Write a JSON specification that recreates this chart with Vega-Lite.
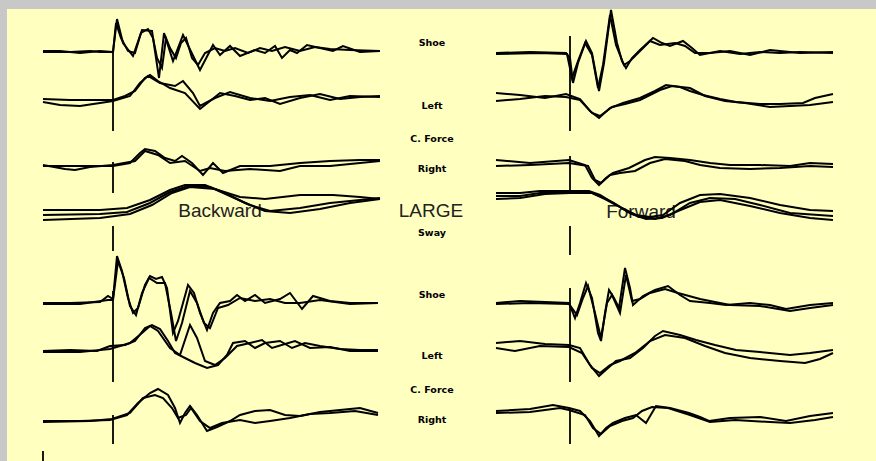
{
"$schema":"https://vega.github.io/schema/vega-lite/v6.json",
"background":"#c8c8c8",
"padding":{"left":7,"top":6,"right":0,"bottom":0},
"autosize":{"type":"pad"},
"spacing":0,
"bounds":"flush",
"config":{"view":{"stroke":null,"fill":"#ffffc0"},"text":{"font":"Liberation Sans"}},
"datasets":{
"L":[
{"s":"ts_a","t":-70,"y":49},{"s":"ts_a","t":-43,"y":49},{"s":"ts_a","t":-23,"y":48},{"s":"ts_a","t":-13,"y":49},{"s":"ts_a","t":0,"y":49},{"s":"ts_a","t":4,"y":16},{"s":"ts_a","t":10,"y":40},{"s":"ts_a","t":20,"y":53},{"s":"ts_a","t":29,"y":27},{"s":"ts_a","t":39,"y":28},{"s":"ts_a","t":46,"y":75},{"s":"ts_a","t":51,"y":30},{"s":"ts_a","t":60,"y":58},{"s":"ts_a","t":70,"y":32},{"s":"ts_a","t":87,"y":67},{"s":"ts_a","t":100,"y":42},{"s":"ts_a","t":107,"y":52},{"s":"ts_a","t":117,"y":43},{"s":"ts_a","t":127,"y":53},{"s":"ts_a","t":142,"y":47},{"s":"ts_a","t":152,"y":50},{"s":"ts_a","t":162,"y":43},{"s":"ts_a","t":169,"y":55},{"s":"ts_a","t":177,"y":47},{"s":"ts_a","t":184,"y":50},{"s":"ts_a","t":194,"y":42},{"s":"ts_a","t":207,"y":45},{"s":"ts_a","t":220,"y":48},{"s":"ts_a","t":230,"y":43},{"s":"ts_a","t":247,"y":49},{"s":"ts_a","t":267,"y":48},
{"s":"ts_b","t":-70,"y":48},{"s":"ts_b","t":-53,"y":48},{"s":"ts_b","t":-33,"y":50},{"s":"ts_b","t":-13,"y":48},{"s":"ts_b","t":0,"y":49},{"s":"ts_b","t":3,"y":20},{"s":"ts_b","t":8,"y":35},{"s":"ts_b","t":15,"y":48},{"s":"ts_b","t":22,"y":50},{"s":"ts_b","t":28,"y":30},{"s":"ts_b","t":35,"y":26},{"s":"ts_b","t":40,"y":35},{"s":"ts_b","t":44,"y":55},{"s":"ts_b","t":49,"y":65},{"s":"ts_b","t":53,"y":35},{"s":"ts_b","t":57,"y":45},{"s":"ts_b","t":63,"y":55},{"s":"ts_b","t":68,"y":40},{"s":"ts_b","t":73,"y":35},{"s":"ts_b","t":79,"y":55},{"s":"ts_b","t":85,"y":62},{"s":"ts_b","t":92,"y":50},{"s":"ts_b","t":102,"y":45},{"s":"ts_b","t":112,"y":48},{"s":"ts_b","t":122,"y":45},{"s":"ts_b","t":135,"y":50},{"s":"ts_b","t":147,"y":45},{"s":"ts_b","t":159,"y":48},{"s":"ts_b","t":172,"y":44},{"s":"ts_b","t":187,"y":48},{"s":"ts_b","t":202,"y":44},{"s":"ts_b","t":217,"y":46},{"s":"ts_b","t":237,"y":47},{"s":"ts_b","t":267,"y":48},
{"s":"tl_a","t":-70,"y":96},{"s":"tl_a","t":-43,"y":97},{"s":"tl_a","t":-13,"y":97},{"s":"tl_a","t":0,"y":97},{"s":"tl_a","t":12,"y":93},{"s":"tl_a","t":22,"y":88},{"s":"tl_a","t":32,"y":75},{"s":"tl_a","t":37,"y":72},{"s":"tl_a","t":45,"y":78},{"s":"tl_a","t":57,"y":85},{"s":"tl_a","t":72,"y":90},{"s":"tl_a","t":87,"y":106},{"s":"tl_a","t":97,"y":98},{"s":"tl_a","t":107,"y":90},{"s":"tl_a","t":122,"y":93},{"s":"tl_a","t":137,"y":97},{"s":"tl_a","t":152,"y":95},{"s":"tl_a","t":167,"y":101},{"s":"tl_a","t":187,"y":95},{"s":"tl_a","t":207,"y":91},{"s":"tl_a","t":227,"y":96},{"s":"tl_a","t":247,"y":94},{"s":"tl_a","t":267,"y":93},
{"s":"tl_b","t":-70,"y":99},{"s":"tl_b","t":-53,"y":102},{"s":"tl_b","t":-33,"y":103},{"s":"tl_b","t":-13,"y":100},{"s":"tl_b","t":0,"y":98},{"s":"tl_b","t":17,"y":93},{"s":"tl_b","t":27,"y":80},{"s":"tl_b","t":35,"y":73},{"s":"tl_b","t":47,"y":80},{"s":"tl_b","t":62,"y":83},{"s":"tl_b","t":70,"y":78},{"s":"tl_b","t":80,"y":90},{"s":"tl_b","t":87,"y":103},{"s":"tl_b","t":102,"y":95},{"s":"tl_b","t":117,"y":89},{"s":"tl_b","t":137,"y":95},{"s":"tl_b","t":157,"y":98},{"s":"tl_b","t":177,"y":94},{"s":"tl_b","t":197,"y":92},{"s":"tl_b","t":217,"y":97},{"s":"tl_b","t":237,"y":93},{"s":"tl_b","t":267,"y":94},
{"s":"tr_a","t":-70,"y":163},{"s":"tr_a","t":-43,"y":163},{"s":"tr_a","t":-13,"y":163},{"s":"tr_a","t":0,"y":163},{"s":"tr_a","t":17,"y":160},{"s":"tr_a","t":27,"y":150},{"s":"tr_a","t":32,"y":146},{"s":"tr_a","t":42,"y":148},{"s":"tr_a","t":52,"y":155},{"s":"tr_a","t":62,"y":158},{"s":"tr_a","t":69,"y":153},{"s":"tr_a","t":79,"y":160},{"s":"tr_a","t":90,"y":172},{"s":"tr_a","t":100,"y":160},{"s":"tr_a","t":110,"y":170},{"s":"tr_a","t":127,"y":163},{"s":"tr_a","t":157,"y":163},{"s":"tr_a","t":187,"y":160},{"s":"tr_a","t":217,"y":158},{"s":"tr_a","t":247,"y":157},{"s":"tr_a","t":267,"y":157},
{"s":"tr_b","t":-70,"y":162},{"s":"tr_b","t":-48,"y":166},{"s":"tr_b","t":-38,"y":167},{"s":"tr_b","t":-23,"y":164},{"s":"tr_b","t":0,"y":162},{"s":"tr_b","t":22,"y":158},{"s":"tr_b","t":32,"y":148},{"s":"tr_b","t":45,"y":152},{"s":"tr_b","t":57,"y":160},{"s":"tr_b","t":72,"y":158},{"s":"tr_b","t":87,"y":168},{"s":"tr_b","t":97,"y":165},{"s":"tr_b","t":112,"y":168},{"s":"tr_b","t":137,"y":166},{"s":"tr_b","t":167,"y":168},{"s":"tr_b","t":187,"y":163},{"s":"tr_b","t":217,"y":163},{"s":"tr_b","t":247,"y":160},{"s":"tr_b","t":267,"y":158},
{"s":"sw_a","t":-70,"y":207},{"s":"sw_a","t":-13,"y":207},{"s":"sw_a","t":14,"y":205},{"s":"sw_a","t":37,"y":197},{"s":"sw_a","t":57,"y":187},{"s":"sw_a","t":72,"y":182},{"s":"sw_a","t":92,"y":182},{"s":"sw_a","t":112,"y":190},{"s":"sw_a","t":132,"y":200},{"s":"sw_a","t":152,"y":208},{"s":"sw_a","t":177,"y":210},{"s":"sw_a","t":207,"y":206},{"s":"sw_a","t":237,"y":200},{"s":"sw_a","t":267,"y":196},
{"s":"sw_b","t":-70,"y":212},{"s":"sw_b","t":-13,"y":211},{"s":"sw_b","t":14,"y":209},{"s":"sw_b","t":37,"y":200},{"s":"sw_b","t":57,"y":189},{"s":"sw_b","t":75,"y":183},{"s":"sw_b","t":97,"y":184},{"s":"sw_b","t":117,"y":193},{"s":"sw_b","t":137,"y":202},{"s":"sw_b","t":157,"y":208},{"s":"sw_b","t":187,"y":205},{"s":"sw_b","t":217,"y":200},{"s":"sw_b","t":267,"y":195},
{"s":"sw_c","t":-70,"y":217},{"s":"sw_c","t":-13,"y":215},{"s":"sw_c","t":17,"y":211},{"s":"sw_c","t":39,"y":202},{"s":"sw_c","t":59,"y":190},{"s":"sw_c","t":77,"y":184},{"s":"sw_c","t":102,"y":186},{"s":"sw_c","t":127,"y":194},{"s":"sw_c","t":152,"y":196},{"s":"sw_c","t":187,"y":192},{"s":"sw_c","t":220,"y":192},{"s":"sw_c","t":247,"y":194},{"s":"sw_c","t":267,"y":196},
{"s":"bs_a","t":-70,"y":300},{"s":"bs_a","t":-43,"y":300},{"s":"bs_a","t":-13,"y":299},{"s":"bs_a","t":-5,"y":293},{"s":"bs_a","t":0,"y":296},{"s":"bs_a","t":4,"y":253},{"s":"bs_a","t":9,"y":268},{"s":"bs_a","t":15,"y":295},{"s":"bs_a","t":20,"y":310},{"s":"bs_a","t":25,"y":305},{"s":"bs_a","t":32,"y":282},{"s":"bs_a","t":37,"y":273},{"s":"bs_a","t":43,"y":276},{"s":"bs_a","t":49,"y":274},{"s":"bs_a","t":54,"y":285},{"s":"bs_a","t":60,"y":330},{"s":"bs_a","t":65,"y":318},{"s":"bs_a","t":70,"y":300},{"s":"bs_a","t":75,"y":282},{"s":"bs_a","t":81,"y":290},{"s":"bs_a","t":87,"y":310},{"s":"bs_a","t":94,"y":327},{"s":"bs_a","t":100,"y":310},{"s":"bs_a","t":107,"y":300},{"s":"bs_a","t":117,"y":298},{"s":"bs_a","t":124,"y":292},{"s":"bs_a","t":132,"y":298},{"s":"bs_a","t":142,"y":292},{"s":"bs_a","t":152,"y":300},{"s":"bs_a","t":167,"y":296},{"s":"bs_a","t":177,"y":290},{"s":"bs_a","t":189,"y":306},{"s":"bs_a","t":200,"y":293},{"s":"bs_a","t":217,"y":298},{"s":"bs_a","t":237,"y":300},{"s":"bs_a","t":265,"y":300},
{"s":"bs_b","t":-70,"y":301},{"s":"bs_b","t":-33,"y":301},{"s":"bs_b","t":-5,"y":297},{"s":"bs_b","t":0,"y":297},{"s":"bs_b","t":5,"y":258},{"s":"bs_b","t":11,"y":275},{"s":"bs_b","t":17,"y":303},{"s":"bs_b","t":23,"y":312},{"s":"bs_b","t":29,"y":290},{"s":"bs_b","t":36,"y":275},{"s":"bs_b","t":44,"y":280},{"s":"bs_b","t":52,"y":280},{"s":"bs_b","t":58,"y":310},{"s":"bs_b","t":63,"y":338},{"s":"bs_b","t":69,"y":320},{"s":"bs_b","t":77,"y":288},{"s":"bs_b","t":84,"y":300},{"s":"bs_b","t":91,"y":320},{"s":"bs_b","t":97,"y":325},{"s":"bs_b","t":105,"y":305},{"s":"bs_b","t":115,"y":302},{"s":"bs_b","t":127,"y":295},{"s":"bs_b","t":142,"y":298},{"s":"bs_b","t":157,"y":296},{"s":"bs_b","t":172,"y":300},{"s":"bs_b","t":187,"y":300},{"s":"bs_b","t":207,"y":297},{"s":"bs_b","t":237,"y":301},{"s":"bs_b","t":265,"y":300},
{"s":"bl_a","t":-70,"y":348},{"s":"bl_a","t":-43,"y":347},{"s":"bl_a","t":-16,"y":348},{"s":"bl_a","t":-3,"y":343},{"s":"bl_a","t":12,"y":342},{"s":"bl_a","t":22,"y":338},{"s":"bl_a","t":32,"y":325},{"s":"bl_a","t":39,"y":322},{"s":"bl_a","t":47,"y":326},{"s":"bl_a","t":55,"y":338},{"s":"bl_a","t":62,"y":350},{"s":"bl_a","t":72,"y":355},{"s":"bl_a","t":82,"y":360},{"s":"bl_a","t":94,"y":365},{"s":"bl_a","t":105,"y":362},{"s":"bl_a","t":114,"y":352},{"s":"bl_a","t":120,"y":340},{"s":"bl_a","t":132,"y":338},{"s":"bl_a","t":142,"y":345},{"s":"bl_a","t":152,"y":340},{"s":"bl_a","t":167,"y":338},{"s":"bl_a","t":179,"y":345},{"s":"bl_a","t":192,"y":340},{"s":"bl_a","t":207,"y":343},{"s":"bl_a","t":227,"y":346},{"s":"bl_a","t":247,"y":347},{"s":"bl_a","t":265,"y":347},
{"s":"bl_b","t":-70,"y":349},{"s":"bl_b","t":-33,"y":349},{"s":"bl_b","t":-3,"y":346},{"s":"bl_b","t":17,"y":340},{"s":"bl_b","t":29,"y":330},{"s":"bl_b","t":37,"y":323},{"s":"bl_b","t":45,"y":328},{"s":"bl_b","t":57,"y":345},{"s":"bl_b","t":67,"y":352},{"s":"bl_b","t":77,"y":322},{"s":"bl_b","t":84,"y":335},{"s":"bl_b","t":92,"y":358},{"s":"bl_b","t":102,"y":362},{"s":"bl_b","t":112,"y":355},{"s":"bl_b","t":124,"y":343},{"s":"bl_b","t":137,"y":340},{"s":"bl_b","t":149,"y":337},{"s":"bl_b","t":159,"y":345},{"s":"bl_b","t":172,"y":341},{"s":"bl_b","t":182,"y":338},{"s":"bl_b","t":197,"y":345},{"s":"bl_b","t":217,"y":344},{"s":"bl_b","t":237,"y":348},{"s":"bl_b","t":265,"y":348},
{"s":"br_a","t":-70,"y":418},{"s":"br_a","t":-33,"y":418},{"s":"br_a","t":-3,"y":417},{"s":"br_a","t":14,"y":412},{"s":"br_a","t":25,"y":400},{"s":"br_a","t":37,"y":390},{"s":"br_a","t":45,"y":386},{"s":"br_a","t":55,"y":392},{"s":"br_a","t":62,"y":405},{"s":"br_a","t":67,"y":420},{"s":"br_a","t":72,"y":410},{"s":"br_a","t":77,"y":403},{"s":"br_a","t":84,"y":412},{"s":"br_a","t":94,"y":428},{"s":"br_a","t":104,"y":424},{"s":"br_a","t":117,"y":418},{"s":"br_a","t":127,"y":412},{"s":"br_a","t":142,"y":408},{"s":"br_a","t":157,"y":407},{"s":"br_a","t":172,"y":412},{"s":"br_a","t":187,"y":413},{"s":"br_a","t":207,"y":409},{"s":"br_a","t":227,"y":407},{"s":"br_a","t":247,"y":405},{"s":"br_a","t":265,"y":410},
{"s":"br_b","t":-70,"y":419},{"s":"br_b","t":-23,"y":418},{"s":"br_b","t":-1,"y":416},{"s":"br_b","t":17,"y":410},{"s":"br_b","t":30,"y":395},{"s":"br_b","t":42,"y":392},{"s":"br_b","t":50,"y":395},{"s":"br_b","t":59,"y":405},{"s":"br_b","t":65,"y":415},{"s":"br_b","t":73,"y":412},{"s":"br_b","t":78,"y":405},{"s":"br_b","t":87,"y":418},{"s":"br_b","t":97,"y":425},{"s":"br_b","t":109,"y":420},{"s":"br_b","t":127,"y":417},{"s":"br_b","t":142,"y":420},{"s":"br_b","t":157,"y":418},{"s":"br_b","t":177,"y":415},{"s":"br_b","t":197,"y":411},{"s":"br_b","t":217,"y":410},{"s":"br_b","t":242,"y":408},{"s":"br_b","t":265,"y":412}
],
"R":[
{"s":"ts_a","t":-74,"y":50},{"s":"ts_a","t":-40,"y":49},{"s":"ts_a","t":-4,"y":50},{"s":"ts_a","t":0,"y":55},{"s":"ts_a","t":3,"y":80},{"s":"ts_a","t":8,"y":60},{"s":"ts_a","t":16,"y":38},{"s":"ts_a","t":22,"y":50},{"s":"ts_a","t":29,"y":88},{"s":"ts_a","t":34,"y":60},{"s":"ts_a","t":41,"y":7},{"s":"ts_a","t":47,"y":40},{"s":"ts_a","t":52,"y":58},{"s":"ts_a","t":56,"y":65},{"s":"ts_a","t":62,"y":55},{"s":"ts_a","t":70,"y":47},{"s":"ts_a","t":83,"y":35},{"s":"ts_a","t":92,"y":40},{"s":"ts_a","t":100,"y":43},{"s":"ts_a","t":113,"y":38},{"s":"ts_a","t":122,"y":45},{"s":"ts_a","t":130,"y":52},{"s":"ts_a","t":150,"y":48},{"s":"ts_a","t":170,"y":51},{"s":"ts_a","t":190,"y":49},{"s":"ts_a","t":210,"y":50},{"s":"ts_a","t":230,"y":49},{"s":"ts_a","t":263,"y":50},
{"s":"ts_b","t":-74,"y":51},{"s":"ts_b","t":-30,"y":50},{"s":"ts_b","t":-3,"y":51},{"s":"ts_b","t":2,"y":75},{"s":"ts_b","t":8,"y":58},{"s":"ts_b","t":15,"y":40},{"s":"ts_b","t":22,"y":52},{"s":"ts_b","t":28,"y":85},{"s":"ts_b","t":33,"y":62},{"s":"ts_b","t":40,"y":12},{"s":"ts_b","t":46,"y":42},{"s":"ts_b","t":54,"y":62},{"s":"ts_b","t":60,"y":58},{"s":"ts_b","t":70,"y":48},{"s":"ts_b","t":80,"y":38},{"s":"ts_b","t":90,"y":42},{"s":"ts_b","t":105,"y":40},{"s":"ts_b","t":115,"y":43},{"s":"ts_b","t":125,"y":50},{"s":"ts_b","t":140,"y":50},{"s":"ts_b","t":160,"y":48},{"s":"ts_b","t":180,"y":52},{"s":"ts_b","t":200,"y":47},{"s":"ts_b","t":230,"y":50},{"s":"ts_b","t":263,"y":49},
{"s":"tl_a","t":-74,"y":90},{"s":"tl_a","t":-50,"y":92},{"s":"tl_a","t":-25,"y":95},{"s":"tl_a","t":-4,"y":91},{"s":"tl_a","t":10,"y":96},{"s":"tl_a","t":20,"y":108},{"s":"tl_a","t":29,"y":115},{"s":"tl_a","t":40,"y":105},{"s":"tl_a","t":53,"y":100},{"s":"tl_a","t":70,"y":95},{"s":"tl_a","t":85,"y":88},{"s":"tl_a","t":96,"y":82},{"s":"tl_a","t":110,"y":84},{"s":"tl_a","t":120,"y":88},{"s":"tl_a","t":133,"y":92},{"s":"tl_a","t":150,"y":96},{"s":"tl_a","t":166,"y":99},{"s":"tl_a","t":190,"y":101},{"s":"tl_a","t":210,"y":101},{"s":"tl_a","t":233,"y":100},{"s":"tl_a","t":245,"y":95},{"s":"tl_a","t":263,"y":91},
{"s":"tl_b","t":-74,"y":98},{"s":"tl_b","t":-50,"y":96},{"s":"tl_b","t":-25,"y":93},{"s":"tl_b","t":-4,"y":94},{"s":"tl_b","t":10,"y":97},{"s":"tl_b","t":22,"y":110},{"s":"tl_b","t":30,"y":113},{"s":"tl_b","t":42,"y":104},{"s":"tl_b","t":55,"y":101},{"s":"tl_b","t":70,"y":97},{"s":"tl_b","t":90,"y":87},{"s":"tl_b","t":102,"y":83},{"s":"tl_b","t":120,"y":85},{"s":"tl_b","t":135,"y":93},{"s":"tl_b","t":155,"y":98},{"s":"tl_b","t":175,"y":100},{"s":"tl_b","t":200,"y":104},{"s":"tl_b","t":220,"y":103},{"s":"tl_b","t":240,"y":102},{"s":"tl_b","t":263,"y":99},
{"s":"tr_a","t":-74,"y":157},{"s":"tr_a","t":-40,"y":160},{"s":"tr_a","t":-1,"y":157},{"s":"tr_a","t":15,"y":162},{"s":"tr_a","t":22,"y":175},{"s":"tr_a","t":29,"y":182},{"s":"tr_a","t":36,"y":175},{"s":"tr_a","t":43,"y":170},{"s":"tr_a","t":59,"y":165},{"s":"tr_a","t":75,"y":157},{"s":"tr_a","t":85,"y":154},{"s":"tr_a","t":100,"y":155},{"s":"tr_a","t":120,"y":157},{"s":"tr_a","t":140,"y":160},{"s":"tr_a","t":160,"y":162},{"s":"tr_a","t":190,"y":162},{"s":"tr_a","t":220,"y":163},{"s":"tr_a","t":240,"y":160},{"s":"tr_a","t":263,"y":161},
{"s":"tr_b","t":-74,"y":163},{"s":"tr_b","t":-40,"y":162},{"s":"tr_b","t":-1,"y":160},{"s":"tr_b","t":18,"y":163},{"s":"tr_b","t":25,"y":177},{"s":"tr_b","t":31,"y":180},{"s":"tr_b","t":40,"y":172},{"s":"tr_b","t":50,"y":170},{"s":"tr_b","t":65,"y":168},{"s":"tr_b","t":80,"y":160},{"s":"tr_b","t":95,"y":156},{"s":"tr_b","t":115,"y":158},{"s":"tr_b","t":130,"y":162},{"s":"tr_b","t":150,"y":165},{"s":"tr_b","t":180,"y":166},{"s":"tr_b","t":210,"y":165},{"s":"tr_b","t":240,"y":163},{"s":"tr_b","t":263,"y":164},
{"s":"sw_a","t":-74,"y":190},{"s":"sw_a","t":-50,"y":190},{"s":"sw_a","t":-30,"y":188},{"s":"sw_a","t":0,"y":188},{"s":"sw_a","t":19,"y":188},{"s":"sw_a","t":30,"y":192},{"s":"sw_a","t":40,"y":198},{"s":"sw_a","t":52,"y":205},{"s":"sw_a","t":66,"y":212},{"s":"sw_a","t":80,"y":214},{"s":"sw_a","t":93,"y":212},{"s":"sw_a","t":110,"y":200},{"s":"sw_a","t":130,"y":192},{"s":"sw_a","t":150,"y":191},{"s":"sw_a","t":180,"y":195},{"s":"sw_a","t":210,"y":202},{"s":"sw_a","t":240,"y":207},{"s":"sw_a","t":263,"y":208},
{"s":"sw_b","t":-74,"y":193},{"s":"sw_b","t":-50,"y":193},{"s":"sw_b","t":-30,"y":190},{"s":"sw_b","t":0,"y":189},{"s":"sw_b","t":20,"y":189},{"s":"sw_b","t":32,"y":194},{"s":"sw_b","t":44,"y":200},{"s":"sw_b","t":58,"y":209},{"s":"sw_b","t":70,"y":214},{"s":"sw_b","t":85,"y":216},{"s":"sw_b","t":100,"y":212},{"s":"sw_b","t":120,"y":200},{"s":"sw_b","t":140,"y":195},{"s":"sw_b","t":165,"y":196},{"s":"sw_b","t":190,"y":202},{"s":"sw_b","t":220,"y":210},{"s":"sw_b","t":263,"y":213},
{"s":"sw_c","t":-74,"y":196},{"s":"sw_c","t":-50,"y":195},{"s":"sw_c","t":-25,"y":191},{"s":"sw_c","t":0,"y":190},{"s":"sw_c","t":22,"y":190},{"s":"sw_c","t":35,"y":196},{"s":"sw_c","t":48,"y":203},{"s":"sw_c","t":62,"y":211},{"s":"sw_c","t":76,"y":216},{"s":"sw_c","t":92,"y":215},{"s":"sw_c","t":108,"y":208},{"s":"sw_c","t":130,"y":199},{"s":"sw_c","t":150,"y":197},{"s":"sw_c","t":180,"y":203},{"s":"sw_c","t":210,"y":210},{"s":"sw_c","t":240,"y":215},{"s":"sw_c","t":263,"y":217},
{"s":"bs_a","t":-74,"y":300},{"s":"bs_a","t":-50,"y":298},{"s":"bs_a","t":-25,"y":299},{"s":"bs_a","t":-1,"y":300},{"s":"bs_a","t":5,"y":315},{"s":"bs_a","t":10,"y":300},{"s":"bs_a","t":16,"y":280},{"s":"bs_a","t":22,"y":295},{"s":"bs_a","t":28,"y":330},{"s":"bs_a","t":31,"y":338},{"s":"bs_a","t":35,"y":310},{"s":"bs_a","t":39,"y":287},{"s":"bs_a","t":44,"y":295},{"s":"bs_a","t":49,"y":305},{"s":"bs_a","t":55,"y":265},{"s":"bs_a","t":60,"y":285},{"s":"bs_a","t":63,"y":302},{"s":"bs_a","t":73,"y":293},{"s":"bs_a","t":85,"y":287},{"s":"bs_a","t":98,"y":283},{"s":"bs_a","t":110,"y":292},{"s":"bs_a","t":120,"y":298},{"s":"bs_a","t":140,"y":300},{"s":"bs_a","t":156,"y":302},{"s":"bs_a","t":180,"y":300},{"s":"bs_a","t":200,"y":302},{"s":"bs_a","t":216,"y":306},{"s":"bs_a","t":240,"y":302},{"s":"bs_a","t":263,"y":300},
{"s":"bs_b","t":-74,"y":301},{"s":"bs_b","t":-40,"y":300},{"s":"bs_b","t":-1,"y":301},{"s":"bs_b","t":7,"y":312},{"s":"bs_b","t":13,"y":295},{"s":"bs_b","t":18,"y":283},{"s":"bs_b","t":25,"y":310},{"s":"bs_b","t":31,"y":335},{"s":"bs_b","t":37,"y":300},{"s":"bs_b","t":42,"y":292},{"s":"bs_b","t":50,"y":310},{"s":"bs_b","t":56,"y":272},{"s":"bs_b","t":62,"y":298},{"s":"bs_b","t":70,"y":296},{"s":"bs_b","t":80,"y":290},{"s":"bs_b","t":95,"y":286},{"s":"bs_b","t":108,"y":290},{"s":"bs_b","t":130,"y":296},{"s":"bs_b","t":160,"y":302},{"s":"bs_b","t":190,"y":303},{"s":"bs_b","t":220,"y":308},{"s":"bs_b","t":240,"y":305},{"s":"bs_b","t":263,"y":302},
{"s":"bl_a","t":-74,"y":340},{"s":"bl_a","t":-50,"y":338},{"s":"bl_a","t":-25,"y":341},{"s":"bl_a","t":-1,"y":342},{"s":"bl_a","t":10,"y":345},{"s":"bl_a","t":20,"y":362},{"s":"bl_a","t":29,"y":373},{"s":"bl_a","t":38,"y":365},{"s":"bl_a","t":46,"y":358},{"s":"bl_a","t":60,"y":355},{"s":"bl_a","t":73,"y":345},{"s":"bl_a","t":85,"y":333},{"s":"bl_a","t":93,"y":328},{"s":"bl_a","t":110,"y":332},{"s":"bl_a","t":126,"y":337},{"s":"bl_a","t":145,"y":342},{"s":"bl_a","t":166,"y":347},{"s":"bl_a","t":190,"y":349},{"s":"bl_a","t":220,"y":352},{"s":"bl_a","t":240,"y":350},{"s":"bl_a","t":263,"y":347},
{"s":"bl_b","t":-74,"y":345},{"s":"bl_b","t":-55,"y":348},{"s":"bl_b","t":-30,"y":343},{"s":"bl_b","t":-1,"y":344},{"s":"bl_b","t":12,"y":350},{"s":"bl_b","t":22,"y":365},{"s":"bl_b","t":30,"y":370},{"s":"bl_b","t":40,"y":362},{"s":"bl_b","t":50,"y":358},{"s":"bl_b","t":65,"y":350},{"s":"bl_b","t":80,"y":338},{"s":"bl_b","t":95,"y":332},{"s":"bl_b","t":115,"y":335},{"s":"bl_b","t":135,"y":343},{"s":"bl_b","t":155,"y":350},{"s":"bl_b","t":180,"y":355},{"s":"bl_b","t":210,"y":358},{"s":"bl_b","t":235,"y":360},{"s":"bl_b","t":250,"y":356},{"s":"bl_b","t":263,"y":350},
{"s":"br_a","t":-74,"y":408},{"s":"br_a","t":-40,"y":406},{"s":"br_a","t":-17,"y":402},{"s":"br_a","t":-1,"y":405},{"s":"br_a","t":10,"y":408},{"s":"br_a","t":20,"y":418},{"s":"br_a","t":29,"y":433},{"s":"br_a","t":36,"y":425},{"s":"br_a","t":43,"y":420},{"s":"br_a","t":55,"y":415},{"s":"br_a","t":66,"y":412},{"s":"br_a","t":76,"y":420},{"s":"br_a","t":86,"y":403},{"s":"br_a","t":100,"y":405},{"s":"br_a","t":119,"y":410},{"s":"br_a","t":130,"y":414},{"s":"br_a","t":139,"y":418},{"s":"br_a","t":160,"y":415},{"s":"br_a","t":190,"y":414},{"s":"br_a","t":216,"y":418},{"s":"br_a","t":240,"y":413},{"s":"br_a","t":263,"y":410},
{"s":"br_b","t":-74,"y":410},{"s":"br_b","t":-40,"y":409},{"s":"br_b","t":-10,"y":405},{"s":"br_b","t":-1,"y":407},{"s":"br_b","t":15,"y":412},{"s":"br_b","t":23,"y":425},{"s":"br_b","t":31,"y":431},{"s":"br_b","t":40,"y":423},{"s":"br_b","t":52,"y":418},{"s":"br_b","t":63,"y":415},{"s":"br_b","t":72,"y":408},{"s":"br_b","t":82,"y":404},{"s":"br_b","t":98,"y":405},{"s":"br_b","t":120,"y":412},{"s":"br_b","t":140,"y":419},{"s":"br_b","t":165,"y":417},{"s":"br_b","t":200,"y":419},{"s":"br_b","t":220,"y":420},{"s":"br_b","t":245,"y":417},{"s":"br_b","t":263,"y":414}
],
"LR":[{"t":0,"y":47,"y2":128},{"t":0,"y":159,"y2":190},{"t":0,"y":223,"y2":248},{"t":0,"y":288,"y2":379},{"t":0,"y":412,"y2":441},{"t":-70,"y":448,"y2":461}],
"RR":[{"t":0,"y":33,"y2":128},{"t":0,"y":153,"y2":188},{"t":0,"y":223,"y2":252},{"t":0,"y":285,"y2":379},{"t":0,"y":405,"y2":441}],
"LAB":[{"t":319,"y":40,"label":"Shoe"},{"t":319,"y":103,"label":"Left"},{"t":319,"y":136,"label":"C. Force"},{"t":319,"y":166,"label":"Right"},{"t":319,"y":230,"label":"Sway"},{"t":319,"y":292,"label":"Shoe"},{"t":319,"y":353,"label":"Left"},{"t":319,"y":387,"label":"C. Force"},{"t":319,"y":417,"label":"Right"}],
"BIGL":[{"t":107,"y":208,"label":"Backward"},{"t":318,"y":208,"label":"LARGE"}],
"BIGR":[{"t":71,"y":209,"label":"Forward"}]
},
"hconcat":[
{"width":463,"height":455,
"encoding":{
"x":{"field":"t","type":"quantitative","scale":{"domain":[-106,357],"nice":false,"zero":false},"axis":null},
"y":{"field":"y","type":"quantitative","scale":{"domain":[6,461],"reverse":true,"nice":false,"zero":false},"axis":null}},
"layer":[
{"data":{"name":"BIGL"},"mark":{"type":"text","fontSize":19,"color":"#222222","baseline":"middle","align":"center"},"encoding":{"text":{"field":"label"}}},
{"data":{"name":"L"},"mark":{"type":"line","color":"#000000","strokeWidth":2},"encoding":{"detail":{"field":"s"}}},
{"data":{"name":"LR"},"mark":{"type":"rule","color":"#000000","strokeWidth":1.8},"encoding":{"y2":{"field":"y2"}}},
{"data":{"name":"LAB"},"mark":{"type":"text","font":"DejaVu Sans","fontSize":9.5,"fontWeight":"bold","color":"#000000","baseline":"middle","align":"center"},"encoding":{"text":{"field":"label"}}}
]},
{"width":406,"height":455,
"encoding":{
"x":{"field":"t","type":"quantitative","scale":{"domain":[-100,306],"nice":false,"zero":false},"axis":null},
"y":{"field":"y","type":"quantitative","scale":{"domain":[6,461],"reverse":true,"nice":false,"zero":false},"axis":null}},
"layer":[
{"data":{"name":"BIGR"},"mark":{"type":"text","fontSize":19,"color":"#222222","baseline":"middle","align":"center"},"encoding":{"text":{"field":"label"}}},
{"data":{"name":"R"},"mark":{"type":"line","color":"#000000","strokeWidth":2},"encoding":{"detail":{"field":"s"}}},
{"data":{"name":"RR"},"mark":{"type":"rule","color":"#000000","strokeWidth":1.8},"encoding":{"y2":{"field":"y2"}}}
]}
],
"resolve":{"scale":{"x":"independent","y":"independent"}}
}
